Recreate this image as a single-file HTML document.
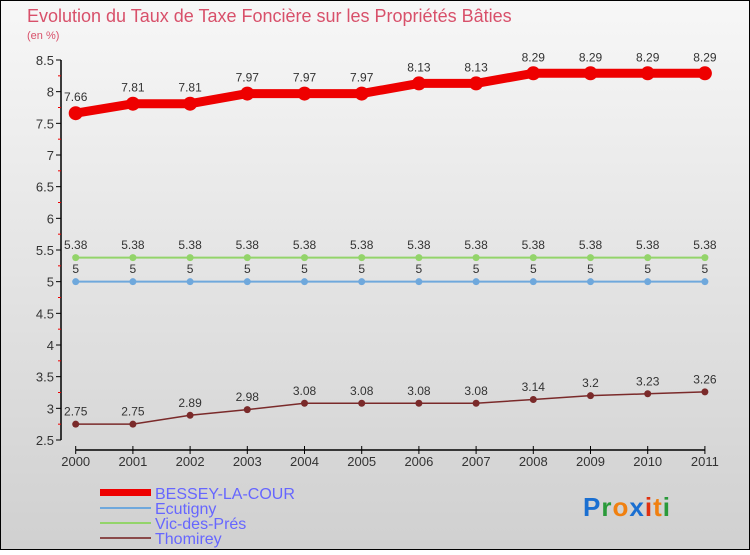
<!DOCTYPE html>
<html><head><meta charset="utf-8"><style>
html,body{margin:0;padding:0}
body{width:750px;height:550px;overflow:hidden;font-family:"Liberation Sans",sans-serif}
</style></head><body>
<svg id="chart" width="750" height="550" xmlns="http://www.w3.org/2000/svg">
<defs><linearGradient id="bg" x1="0" y1="0" x2="0" y2="1"><stop offset="0" stop-color="#f7f7f7"/><stop offset="1" stop-color="#d0d0d0"/></linearGradient></defs>
<rect x="0.5" y="0.5" width="749" height="549" fill="url(#bg)" stroke="#000"/>
<text x="27" y="22" font-size="18" fill="#d8506a">Evolution du Taux de Taxe Foncière sur les Propriétés Bâties</text>
<text x="27" y="39" font-size="11" fill="#d8506a">(en %)</text>
<g id="axes"></g>
<g id="series"></g>
<g id="legend">
<rect x="100" y="489" width="51" height="7" fill="#e00"/>
<text x="155" y="499" font-size="16" fill="#6666ff">BESSEY-LA-COUR</text>
<line x1="100" y1="508" x2="151" y2="508" stroke="#6fa8dc" stroke-width="2"/>
<text x="155" y="514" font-size="16" fill="#6666ff">Ecutigny</text>
<line x1="100" y1="523" x2="151" y2="523" stroke="#93d46a" stroke-width="2"/>
<text x="155" y="529" font-size="16" fill="#6666ff">Vic-des-Prés</text>
<line x1="100" y1="538" x2="151" y2="538" stroke="#8a4a4a" stroke-width="2"/>
<text x="155" y="544" font-size="16" fill="#6666ff">Thomirey</text>
</g>
<text x="583" y="516" font-size="26" font-weight="bold" letter-spacing="1"><tspan fill="#1a6fd1">P</tspan><tspan fill="#2a9a3a">r</tspan><tspan fill="#f08010">o</tspan><tspan fill="#1a6fd1">x</tspan><tspan fill="#e03010">i</tspan><tspan fill="#f08010">t</tspan><tspan fill="#2a9a3a">i</tspan></text>
</svg>
<script>
const years = ["2000","2001","2002","2003","2004","2005","2006","2007","2008","2009","2010","2011"];
const bessey = [7.66,7.81,7.81,7.97,7.97,7.97,8.13,8.13,8.29,8.29,8.29,8.29];
const ecutigny = [5,5,5,5,5,5,5,5,5,5,5,5];
const vic = [5.38,5.38,5.38,5.38,5.38,5.38,5.38,5.38,5.38,5.38,5.38,5.38];
const thomirey = [2.75,2.75,2.89,2.98,3.08,3.08,3.08,3.08,3.14,3.2,3.23,3.26];
const yTicks = [2.5,3,3.5,4,4.5,5,5.5,6,6.5,7,7.5,8,8.5];
const NS="http://www.w3.org/2000/svg";
const xs = i => 75.7 + i*57.2;
const ys = v => 440 - (v-2.5)*(380/6);
function mk(tag, attrs, parent){const e=document.createElementNS(NS,tag);for(const k in attrs)e.setAttribute(k,attrs[k]);parent.appendChild(e);return e;}
const axes=document.getElementById('axes'), ser=document.getElementById('series');
let l=mk('line',{x1:61,y1:ys(8.5),x2:61,y2:ys(2.5),stroke:'#000','stroke-width':1.5},axes);


yTicks.forEach((t,i)=>{
  const tk=mk('line',{x1:56,y1:ys(t),x2:61,y2:ys(t),stroke:'#000'},axes);
  
  
  const tx=mk('text',{x:54,y:ys(t)+5,'font-size':13,'text-anchor':'end',fill:'#333'},axes);
  tx.textContent=String(t);
  
  
  if(i<yTicks.length-1){
    const m=mk('line',{x1:58,y1:ys(t+0.25),x2:61,y2:ys(t+0.25),stroke:'#e00'},axes);
    
    
  }
});
l=mk('line',{x1:xs(0),y1:450,x2:xs(years.length-1),y2:450,stroke:'#000','stroke-width':1.5},axes);


years.forEach((y,i)=>{
  const tk=mk('line',{x1:xs(i),y1:446,x2:xs(i),y2:454,stroke:'#000'},axes);
  
  
  const tx=mk('text',{x:xs(i),y:466,'font-size':13,'text-anchor':'middle',fill:'#333'},axes);
  tx.textContent=y;
  
  
});
function draw(vals,color,w,r,name,fmt){
  const p=mk('polyline',{points:vals.map((v,i)=>xs(i)+','+ys(v)).join(' '),fill:'none',stroke:color,'stroke-width':w,'stroke-linejoin':'round'},ser);
  
  
  vals.forEach((v,i)=>{
    const c=mk('circle',{cx:xs(i),cy:ys(v),r:r,fill:color},ser);
    
    
    const t=mk('text',{x:xs(i),y:ys(v)-(r+5),'font-size':12,'text-anchor':'middle',fill:'#333'},ser);
    t.textContent=fmt(v);
    
    
  });
}
const f=v=>String(v);
draw(vic,'#93d46a',2,3.5,'vic-des-pres',f);
draw(ecutigny,'#6fa8dc',2,3.5,'ecutigny',f);
draw(thomirey,'#7a2a2a',1.5,3.5,'thomirey',f);
draw(bessey,'#e00',9,7,'bessey-la-cour',f);
</script>
</body></html>
